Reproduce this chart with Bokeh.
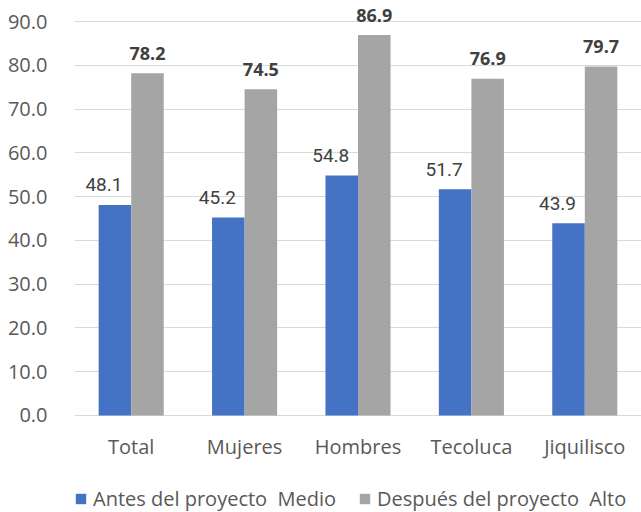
from bokeh.plotting import figure
from bokeh.models import ColumnDataSource, Range1d, FixedTicker, Legend, LegendItem
from bokeh.core.properties import value
from bokeh.embed import file_html
from bokeh.resources import INLINE

categories = ["Total", "Mujeres", "Hombres", "Tecoluca", "Jiquilisco"]
antes = [48.1, 45.2, 54.8, 51.7, 43.9]
despues = [78.2, 74.5, 86.9, 76.9, 79.7]
series_names = ["Antes del proyecto  Medio", "Después del proyecto  Alto"]
y_ticks = [0, 10, 20, 30, 40, 50, 60, 70, 80, 90]

BLUE = "#4472C4"
GRAY = "#A5A5A5"
BW = 0.287

xc = [i + 0.5 for i in range(len(categories))]
src = ColumnDataSource(dict(
    x_a=[x - BW / 2 for x in xc],
    x_d=[x + BW / 2 for x in xc],
    antes=antes,
    despues=despues,
    lab_a=[f"{v:.1f}" for v in antes],
    lab_d=[f"{v:.1f}" for v in despues],
))
cat_src = ColumnDataSource(dict(x=xc, y=[0] * len(categories), name=categories))

p = figure(output_backend="svg", toolbar_location=None, x_axis_location=None,
           x_range=Range1d(0, 5.0), y_range=Range1d(-22.17, 93.66),
           min_border_left=74, min_border_right=0, min_border_top=5, min_border_bottom=0)
p.frame_width = 567
p.frame_height = 507
p.outline_line_color = None
p.background_fill_color = "white"
p.border_fill_color = "white"

r_a = p.vbar(x="x_a", top="antes", width=BW, source=src, color=BLUE, line_color=None)
r_d = p.vbar(x="x_d", top="despues", width=BW, source=src, color=GRAY, line_color=None)

p.text(x="x_a", y="antes", text="lab_a", source=src, x_offset=-11, y_offset=-20,
       text_align="center", text_baseline="alphabetic",
       text_font=value("Roboto"), text_font_size="19px", text_color="#404040")
p.text(x="x_d", y="despues", text="lab_d", source=src, y_offset=-20,
       text_align="center", text_baseline="alphabetic", text_font_style="bold",
       text_font=value("Open Sans"), text_font_size="18px", text_color="#404040")

# category labels under the baseline
p.text(x="x", y="y", text="name", source=cat_src, y_offset=31,
       text_align="center", text_baseline="alphabetic",
       text_font=value("Open Sans"), text_font_size="20px", text_color="#595959")

p.xgrid.grid_line_color = None
p.ygrid.grid_line_color = "#D9D9D9"
p.ygrid.grid_line_width = 1
p.ygrid.ticker = FixedTicker(ticks=y_ticks)

p.yaxis.ticker = FixedTicker(ticks=y_ticks)
p.yaxis.major_label_overrides = {t: f"{t:.1f}" for t in y_ticks}
p.yaxis.axis_line_color = None
p.yaxis.major_tick_line_color = None
p.yaxis.minor_tick_line_color = None
p.yaxis.major_label_standoff = 21
p.yaxis.major_label_text_font = "Open Sans"
p.yaxis.major_label_text_font_size = "20px"
p.yaxis.major_label_text_color = "#595959"

legend = Legend(items=[LegendItem(label=series_names[0], renderers=[r_a]),
                       LegendItem(label=series_names[1], renderers=[r_d])],
                orientation="horizontal", location="bottom_left",
                label_text_font="Open Sans", label_text_font_size="20px",
                label_text_color="#595959", glyph_width=13, glyph_height=13,
                label_standoff=6, spacing=22, border_line_color=None,
                background_fill_alpha=0, padding=0, margin=0)
p.add_layout(legend, "center")

open("out.html", "w").write(file_html(p, INLINE))
